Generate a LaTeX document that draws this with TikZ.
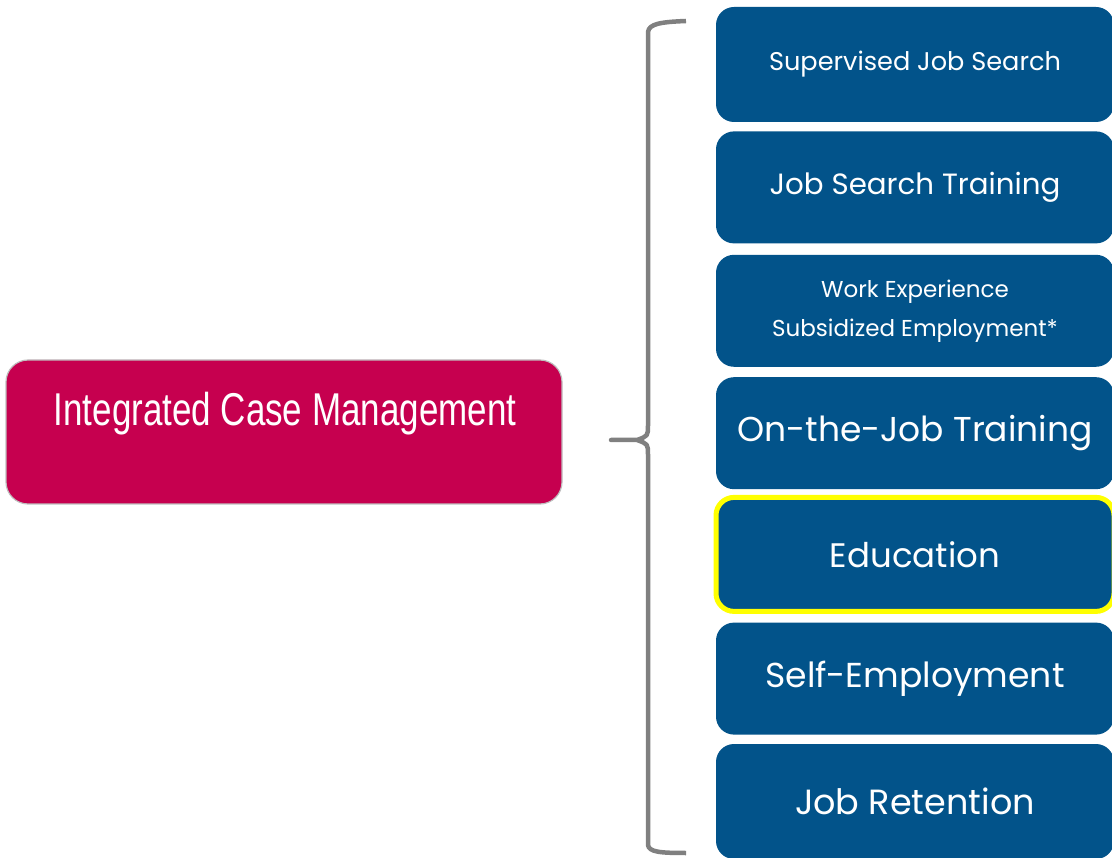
\documentclass[tikz,border=0pt]{standalone}
\usepackage{fontspec}
\setmainfont{Poppins}
\newfontfamily\narrowfont[FakeStretch=0.76]{Liberation Sans}
\usetikzlibrary{positioning}
\definecolor{boxblue}{RGB}{2, 83, 138}
\definecolor{casered}{RGB}{198, 0, 79}
\definecolor{bracegray}{RGB}{128, 128, 128}
\definecolor{hiyellow}{RGB}{255, 255, 0}

\begin{document}
\begin{tikzpicture}[x=1pt, y=-1pt,
    svc/.style={fill=boxblue, rounded corners=18pt, minimum width=398pt,
                minimum height=112pt, inner sep=0pt, text=white, align=center}]
        \useasboundingbox (0,0) rectangle (1112,858);

        % 管理
        \node[fill=casered, draw=gray!50, line width=1.2pt, rounded corners=22pt,
              minimum width=556pt, minimum height=144pt] (icm) at (284,432) {};
        \node[text=white, font=\narrowfont\fontsize{46}{50}\selectfont, anchor=base]
              (icmtext) at (285,426) {Integrated Case Management};

        % 服务
        \node[svc, minimum height=115pt, font=\fontsize{25.6}{28}\selectfont]
              (sjs) at (915,64.5) {Supervised Job Search};
        \node[svc, below=9pt of sjs, font=\fontsize{29.3}{32}\selectfont] (jst) {Job Search Training};
        \node[svc, below=11pt of jst, font=\fontsize{23}{39}\selectfont] (wes)
              {Work Experience\\Subsidized Employment*};
        \node[svc, below=10pt of wes, font=\fontsize{34.5}{40}\selectfont] (ojt) {On-the-Job Training};
        \node[svc, below=5.5pt of ojt, draw=hiyellow, line width=5pt, minimum height=114pt,
              font=\fontsize{34}{40}\selectfont] (edu) {Education};
        \node[svc, below=8.5pt of edu, font=\fontsize{34.6}{40}\selectfont] (sem) {Self-Employment};
        \node[svc, below=9pt of sem, minimum height=115pt, font=\fontsize{35}{40}\selectfont]
              (jr) {Job Retention};

        % 括号
        \draw[bracegray, line width=4.5pt, line join=round]
            (686,21) .. controls (660,22) and (649,24) .. (648,32) -- (648,425)
            .. controls (648,436) .. (637,440) -- (611,440) -- (637,440)
            .. controls (648,444) .. (648,455) -- (648,845)
            .. controls (649,852) and (660,853) .. (686,853);
\end{tikzpicture}
\end{document}
